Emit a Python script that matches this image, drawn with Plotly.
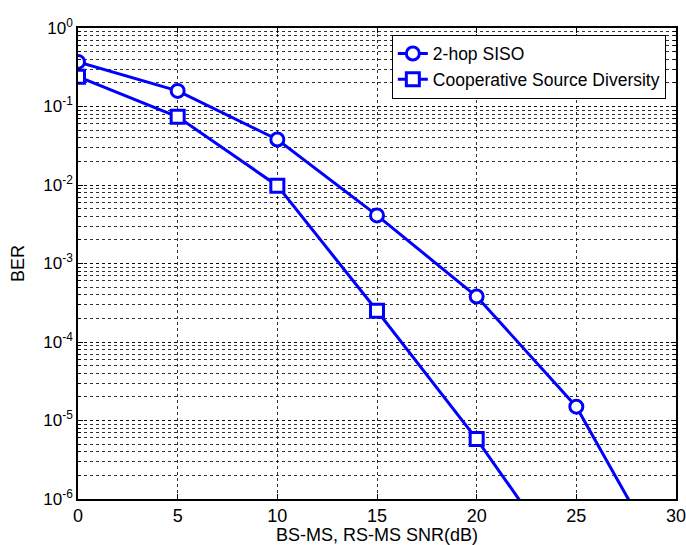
import plotly.graph_objects as go

snr = [0, 5, 10, 15, 20, 25, 30]
ber_siso = [0.37, 0.158, 0.038, 0.0041, 3.8e-4, 1.5e-5, 8.3e-8]
snr_coop = [0, 5, 10, 15, 20, 25]
ber_coop = [0.24, 0.074, 0.0098, 2.5e-4, 5.8e-6, 9e-8]

ytick_vals = [1e0, 1e-1, 1e-2, 1e-3, 1e-4, 1e-5, 1e-6]
ytick_text = ["10<sup>0</sup>", "10<sup>-1</sup>", "10<sup>-2</sup>", "10<sup>-3</sup>",
              "10<sup>-4</sup>", "10<sup>-5</sup>", "10<sup>-6</sup>"]
xtick_vals = [0, 5, 10, 15, 20, 25, 30]

FONT = "Liberation Sans, Arial, Helvetica, sans-serif"
blue = "rgb(0,0,255)"
fig = go.Figure()
fig.add_trace(go.Scatter(
    x=snr, y=ber_siso, mode="lines+markers", name="2-hop SISO",
    line=dict(color=blue, width=3),
    marker=dict(symbol="circle", size=13, color="white", line=dict(color=blue, width=3)),
    cliponaxis=True,
))
fig.add_trace(go.Scatter(
    x=snr_coop, y=ber_coop, mode="lines+markers", name="Cooperative Source Diversity",
    line=dict(color=blue, width=3),
    marker=dict(symbol="square", size=13, color="white", line=dict(color=blue, width=3)),
    cliponaxis=True,
))

axis_common = dict(
    showline=True, linecolor="black", linewidth=1.5, mirror="ticks",
    ticks="inside", ticklen=5, tickcolor="black",
    showgrid=True, gridcolor="rgba(0,0,0,0.8)", griddash="dot", gridwidth=1,
    zeroline=False, automargin=False, ticklabeloverflow="allow",
)

fig.update_xaxes(range=[0, 30], tickvals=xtick_vals,
                 tickfont=dict(family=FONT, size=18, color="black"),
                 title=dict(text="BS-MS, RS-MS SNR(dB)", font=dict(family=FONT, size=18, color="black"), standoff=2),
                 **axis_common)
fig.update_yaxes(type="log", range=[-6, 0], tickvals=ytick_vals, ticktext=ytick_text,
                 tickfont=dict(family=FONT, size=17, color="black"),
                 title=dict(text="BER", font=dict(family=FONT, size=18, color="black"), standoff=14),
                 minor=dict(dtick="D1", showgrid=True, gridcolor="rgba(0,0,0,0.8)", griddash="dot",
                            gridwidth=1, ticks="inside", ticklen=3, tickcolor="black"),
                 **axis_common)

fig.update_layout(
    width=686, height=545,
    margin=dict(l=78, r=10, t=28, b=46),
    paper_bgcolor="white", plot_bgcolor="white",
    font=dict(family=FONT, size=18, color="black"),
    showlegend=True,
    legend=dict(x=0.983, y=0.986, xanchor="right", yanchor="top",
                bgcolor="white", bordercolor="black", borderwidth=1,
                font=dict(family=FONT, size=17.5, color="black"), tracegroupgap=0, itemwidth=30),
)

fig.write_html("out.html", config={"displayModeBar": False},
               post_script="document.body.style.margin='0';")
